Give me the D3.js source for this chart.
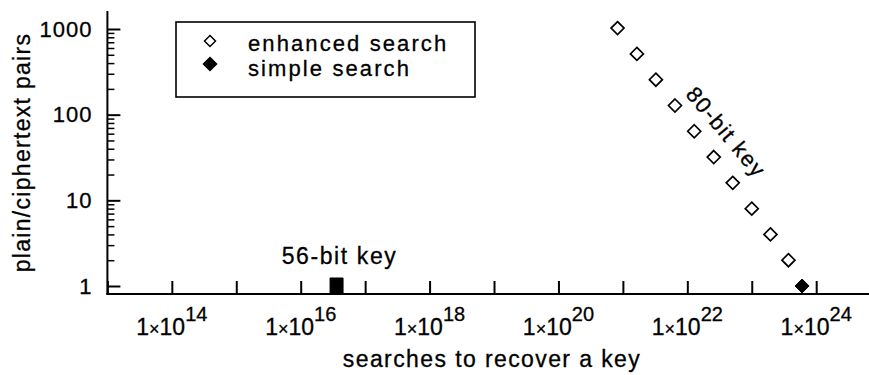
<!DOCTYPE html>
<html><head><meta charset="utf-8">
<script src="https://cdn.jsdelivr.net/npm/d3@7"></script>
<style>
body{margin:0;background:#fff}
svg{display:block}
text{font-family:"Liberation Sans",Arial,sans-serif;fill:#000;stroke:#000;stroke-width:0.3px}
</style>
</head><body><svg id="c" width="869" height="375"></svg>
<script>
// ---- data ----
const seriesNames = ["enhanced search", "simple search"];
const enhancedSearches = [8.26e20, 1.65e21, 3.25e21, 6.43e21, 1.28e22, 2.57e22, 5.07e22, 1.0e23, 1.95e23, 3.71e23];
const enhancedPairs = [1024, 512, 256, 128, 64, 32, 16, 8, 4, 2];
const simpleSearches = [3.6e16, 6.04e23];
const simplePairs = [1, 1];
const keyLabels = ["56-bit key", "80-bit key"];
const xTickValues = [1e13, 1e14, 1e15, 1e16, 1e17, 1e18, 1e19, 1e20, 1e21, 1e22, 1e23, 1e24];
const xLabelValues = [1e14, 1e16, 1e18, 1e20, 1e22, 1e24];
const xLabelExponents = ["14", "16", "18", "20", "22", "24"];
const yTickValues = [1, 10, 100, 1000];
const yTickLabels = ["1", "10", "100", "1000"];
const xTitle = "searches to recover a key";
const yTitle = "plain/ciphertext pairs";

// ---- scales ----
const svg = d3.select("#c");
const x = d3.scaleLog().domain([1e13, 6.6e24]).range([107.4, 869]);
const y = d3.scaleLog().domain([0.8065, 1622]).range([294, 11]);
const [x0, x1] = x.range();
const [yb, yt] = y.range();

// ---- axes ----
const yMinor = y.ticks().filter(v => !yTickValues.includes(v) && v >= 1 && v <= 1000);
const gyMinor = svg.append("g").attr("transform", `translate(${x0},0)`)
  .call(d3.axisLeft(y).tickValues(yMinor).tickSize(-7).tickFormat(""));
gyMinor.select(".domain").remove();
gyMinor.selectAll("line").attr("stroke", "#000").attr("stroke-width", 1.5);

const gy = svg.append("g").attr("transform", `translate(${x0},0)`)
  .call(d3.axisLeft(y).tickValues(yTickValues).tickSize(-13).tickPadding(15)
    .tickFormat((d, i) => yTickLabels[i]));
gy.select(".domain").remove();
gy.selectAll("line").attr("stroke", "#000").attr("stroke-width", 2);
gy.selectAll("text").attr("font-size", 22).attr("font-family", "Liberation Sans")
  .attr("letter-spacing", 1).attr("fill", "#000");

const gx = svg.append("g").attr("transform", `translate(0,${yb})`)
  .call(d3.axisBottom(x).tickValues(xTickValues).tickSize(-13).tickFormat(""));
gx.select(".domain").remove();
gx.selectAll("line").attr("stroke", "#000").attr("stroke-width", 2);

svg.append("line").attr("x1", x0).attr("x2", x0).attr("y1", yt).attr("y2", yb + 1)
  .attr("stroke", "#000").attr("stroke-width", 2);
svg.append("line").attr("x1", x0 - 1).attr("x2", x1).attr("y1", yb).attr("y2", yb)
  .attr("stroke", "#000").attr("stroke-width", 2);

// x tick labels with superscripts
const xl = svg.append("g").selectAll("text").data(xLabelValues).join("text")
  .attr("x", d => x(d)).attr("y", yb + 41).attr("text-anchor", "middle").attr("font-size", 23);
xl.append("tspan").text("1");
xl.append("tspan").attr("font-size", 18).text("×");
xl.append("tspan").text("10");
xl.append("tspan").attr("font-size", 20).attr("dy", -14).text((d, i) => xLabelExponents[i]);

// titles
svg.append("text").attr("x", 492).attr("y", 367).attr("text-anchor", "middle")
  .attr("font-size", 23).attr("letter-spacing", 1.4).text(xTitle);
svg.append("text").attr("transform", `translate(30,${(yt + yb) / 2}) rotate(-90)`)
  .attr("text-anchor", "middle").attr("font-size", 23).attr("letter-spacing", 1.3).text(yTitle);

// ---- marks ----
const diamond = r => `M0,${-r}L${r},0L0,${r}L${-r},0Z`;
svg.append("g").selectAll("path").data(enhancedSearches).join("path")
  .attr("d", diamond(6.5))
  .attr("transform", (d, i) => `translate(${x(d)},${y(enhancedPairs[i])})`)
  .attr("fill", "#fff").attr("stroke", "#000").attr("stroke-width", 1.7);

svg.append("g").selectAll("path").data(simpleSearches).join("path")
  .attr("d", (d, i) => i === 0 ? "M-6.5,-8L6.5,-8L6.5,7L-6.5,7Z" : diamond(7))
  .attr("transform", (d, i) => `translate(${x(d)},${y(simplePairs[i])})`)
  .attr("fill", "#000").attr("stroke", "#000").attr("stroke-width", 1);

// key annotations
svg.append("text").attr("x", x(simpleSearches[0]) + 3).attr("y", y(simplePairs[0]) - 22)
  .attr("text-anchor", "middle").attr("font-size", 23).attr("letter-spacing", 1.6).text(keyLabels[0]);
const mx = (x(enhancedSearches[4]) + x(enhancedSearches[5])) / 2;
const my = (y(enhancedPairs[4]) + y(enhancedPairs[5])) / 2;
svg.append("text").attr("transform", `translate(${mx + 22},${my - 12}) rotate(50)`)
  .attr("text-anchor", "middle").attr("dominant-baseline", "central")
  .attr("font-size", 22).attr("letter-spacing", 1.5).text(keyLabels[1]);

// ---- legend ----
const lg = svg.append("g");
lg.append("rect").attr("x", 176).attr("y", 22).attr("width", 299).attr("height", 75)
  .attr("fill", "#fff").attr("stroke", "#000").attr("stroke-width", 1.6);
seriesNames.forEach((name, i) => {
  const base = 50.5 + i * 25;
  lg.append("path").attr("d", diamond(i === 0 ? 5.5 : 6.5))
    .attr("transform", `translate(210,${base - 9.5 - i * 2})`)
    .attr("fill", i === 0 ? "#fff" : "#000").attr("stroke", "#000").attr("stroke-width", 1.5);
  lg.append("text").attr("x", 248).attr("y", base).attr("font-size", 22)
    .attr("letter-spacing", 2.1).text(name);
});
</script>
</body></html>
